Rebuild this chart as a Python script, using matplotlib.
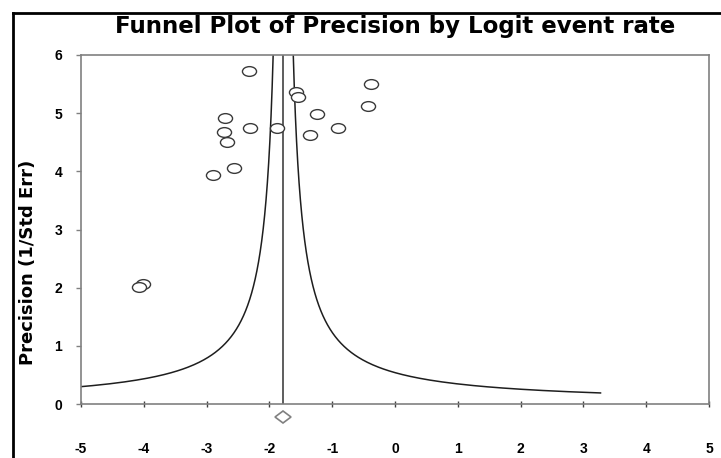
import numpy as np
import matplotlib
matplotlib.use("Agg")
import matplotlib.pyplot as plt
from matplotlib.markers import MarkerStyle
from matplotlib.transforms import Affine2D
from matplotlib.lines import Line2D

# Data
logit_rate = [-2.33, -0.38, -1.57, -1.55, -0.43, -1.25, -2.71, -2.31, -1.88,
              -0.91, -2.73, -1.35, -2.68, -2.57, -2.90, -4.01, -4.07]
precision = [5.73, 5.50, 5.36, 5.28, 5.13, 4.98, 4.91, 4.75, 4.74,
             4.74, 4.67, 4.62, 4.50, 4.06, 3.93, 2.07, 2.01]
summary_effect = -1.78
summary_y = -0.22
funnel_const = 0.96
funnel_min_prec = 0.19
x_ticks = [-5, -4, -3, -2, -1, 0, 1, 2, 3, 4, 5]
y_ticks = [0, 1, 2, 3, 4, 5, 6]

plt.rcParams['font.family'] = ['Liberation Sans', 'DejaVu Sans']

fig = plt.figure(figsize=(7.21, 4.58), dpi=100)
ax = fig.add_axes([81/721, 1 - 404/458, (709-81)/721, (404-55)/458])

# funnel
prec = np.linspace(funnel_min_prec, 6.5, 600)
ax.plot(summary_effect - funnel_const / prec, prec, color='#1e1e1e', lw=1.1)
ax.plot(summary_effect + funnel_const / prec, prec, color='#1e1e1e', lw=1.1)
ax.plot([summary_effect, summary_effect], [0, 6], color='#505050', lw=1.3)

ell = MarkerStyle('o', transform=Affine2D().scale(1.45, 1.0))
ax.plot(logit_rate, precision, linestyle='none', marker=ell, markersize=7,
        markerfacecolor='white', markeredgecolor='#3a3a3a', markeredgewidth=1.0)

dia = MarkerStyle('D', transform=Affine2D().scale(1.2, 1.0))
ax.plot([summary_effect], [summary_y], linestyle='none', marker=dia, markersize=6.5,
        markerfacecolor='white', markeredgecolor='#808080', markeredgewidth=1.2,
        clip_on=False)

ax.set_xlim(-5, 5)
ax.set_ylim(0, 6)
ax.set_xticks(x_ticks)
ax.set_yticks(y_ticks)
ax.set_xticklabels([str(t) for t in x_ticks], fontweight='bold', fontsize=10)
ax.set_yticklabels([str(t) for t in y_ticks], fontweight='bold', fontsize=10)
ax.tick_params(axis='x', direction='inout', length=5, width=1, color='#404040', pad=25)
ax.tick_params(axis='y', direction='out', length=3.5, width=1, color='#808080', pad=10)
for s in ax.spines.values():
    s.set_color('#808080')
    s.set_linewidth(1.2)

fig.text(395/721, 1 - 33/458, 'Funnel Plot of Precision by Logit event rate',
         ha='center', va='baseline', fontsize=16.5, fontweight='bold',
         family=['DejaVu Sans'])
fig.text(28/721, 1 - 262/458, 'Precision (1/Std Err)', rotation=90,
         ha='center', va='center', fontsize=13, fontweight='bold',
         family=['DejaVu Sans'])

# outer frame
fig.add_artist(Line2D([12.5/721, 12.5/721], [0, 1 - 12.5/458], transform=fig.transFigure,
                      color='black', lw=2))
fig.add_artist(Line2D([12.5/721, 1], [1 - 12.5/458, 1 - 12.5/458], transform=fig.transFigure,
                      color='black', lw=2))

fig.savefig('out.png', dpi=100)
